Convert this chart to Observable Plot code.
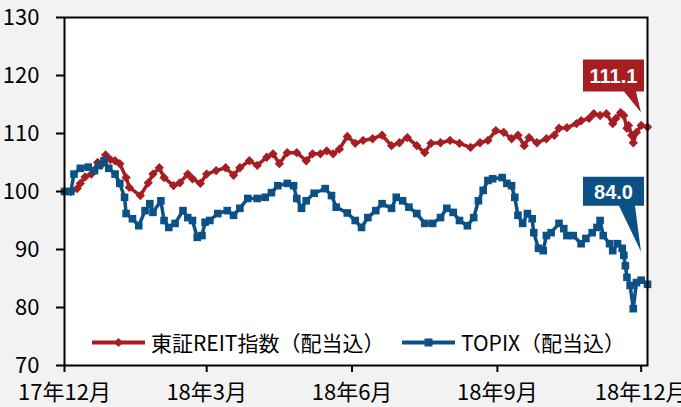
<!DOCTYPE html>
<html><head><meta charset="utf-8">
<script src="https://cdn.jsdelivr.net/npm/d3@7"></script>
<script src="https://cdn.jsdelivr.net/npm/@observablehq/plot@0.6"></script>
<style>
html,body{margin:0;padding:0;background:#f2f2f2;}
#wrap{position:relative;width:681px;height:407px;overflow:hidden;background:#f2f2f2;}
.lg{position:absolute;display:flex;align-items:center;font-size:21px;font-family:"Liberation Sans Narrow","Arial Narrow","Noto Sans CJK JP",sans-serif;color:#000;white-space:nowrap;line-height:1;}
.lg svg{margin-right:6px;}
</style></head><body><div id="wrap"></div>
<script>
const seriesNames = ["東証REIT指数（配当込）", "TOPIX（配当込）"];
const seriesColors = ["#a61d22", "#0c5186"];

const reitDates = ["2017-12-01","2017-12-05","2017-12-09","2017-12-11","2017-12-14","2017-12-18","2017-12-22","2017-12-24","2017-12-27","2017-12-30",
"2018-01-02","2018-01-05","2018-01-09","2018-01-11","2018-01-18","2018-01-23","2018-01-26","2018-01-30",
"2018-02-02","2018-02-08","2018-02-12","2018-02-17","2018-02-20","2018-02-25",
"2018-03-01","2018-03-07","2018-03-13","2018-03-18","2018-03-22","2018-03-28",
"2018-04-02","2018-04-08","2018-04-12","2018-04-16","2018-04-21","2018-04-27",
"2018-05-03","2018-05-07","2018-05-12","2018-05-16","2018-05-20","2018-05-24","2018-05-29",
"2018-06-03","2018-06-08","2018-06-14","2018-06-20","2018-06-26",
"2018-07-01","2018-07-06","2018-07-12","2018-07-17","2018-07-21","2018-07-27",
"2018-08-02","2018-08-08","2018-08-15","2018-08-21","2018-08-26","2018-08-31",
"2018-09-05","2018-09-10","2018-09-14","2018-09-18","2018-09-21","2018-09-26",
"2018-10-02","2018-10-07","2018-10-10","2018-10-15","2018-10-21","2018-10-24","2018-10-29",
"2018-11-01","2018-11-05","2018-11-09","2018-11-13","2018-11-15","2018-11-18","2018-11-20","2018-11-22","2018-11-23","2018-11-25","2018-11-26","2018-11-28",
"2018-12-01","2018-12-05"];
const reitValues = [100,100,100.5,101.4,102.5,103,105,104.5,106.3,105.5,
105.3,104.8,102.4,100.7,99.3,101.5,103,104.1,
102.4,101,101.5,103,102.2,101.4,
103,103.6,104.1,102.8,104.1,105.3,
104.5,105.9,106.5,104.8,106.7,106.7,
105.3,106.5,106.5,107,106.5,107.3,109.5,
108.3,108.8,109.1,109.7,107.9,
108.4,109.3,107.9,106.7,108.3,108.4,
108.8,108.3,107.6,108.4,108.8,110.5,
110.2,109.1,109.7,107.9,109.3,108.4,
109.1,109.7,110.9,111,111.7,112.2,112.6,
113.4,113.1,113.4,111.7,112.6,113.6,113.1,110.9,111.4,109.7,108.4,110.2,
111.4,111.1];

const topixDates = ["2017-12-01","2017-12-05","2017-12-07","2017-12-11","2017-12-16","2017-12-20","2017-12-23","2017-12-26","2017-12-29",
"2018-01-02","2018-01-05","2018-01-08","2018-01-09","2018-01-13","2018-01-17","2018-01-21","2018-01-24","2018-01-26","2018-01-31",
"2018-02-02","2018-02-05","2018-02-09","2018-02-14","2018-02-17","2018-02-20","2018-02-23","2018-02-26","2018-02-28",
"2018-03-03","2018-03-08","2018-03-14","2018-03-18","2018-03-22","2018-03-27",
"2018-04-02","2018-04-07","2018-04-11","2018-04-15","2018-04-21","2018-04-25","2018-04-27","2018-04-30",
"2018-05-03","2018-05-08","2018-05-15","2018-05-19","2018-05-22","2018-05-29",
"2018-06-03","2018-06-07","2018-06-11","2018-06-16","2018-06-20","2018-06-26","2018-06-29",
"2018-07-03","2018-07-07","2018-07-12","2018-07-17","2018-07-22","2018-07-27","2018-07-31",
"2018-08-04","2018-08-08","2018-08-13","2018-08-17","2018-08-20","2018-08-23","2018-08-26","2018-08-29",
"2018-09-04","2018-09-07","2018-09-10","2018-09-12","2018-09-14","2018-09-17","2018-09-20","2018-09-23","2018-09-24","2018-09-27","2018-09-30",
"2018-10-02","2018-10-05","2018-10-10","2018-10-13","2018-10-15","2018-10-19","2018-10-24","2018-10-27","2018-10-31",
"2018-11-03","2018-11-05","2018-11-07","2018-11-11","2018-11-13","2018-11-16","2018-11-19","2018-11-20","2018-11-21","2018-11-22","2018-11-24","2018-11-26","2018-11-28",
"2018-12-01","2018-12-05"];
const topixValues = [100,100,103,104,104.2,103.6,104.5,105.3,104,
103,101.4,99,96.2,95.3,94.1,96.7,97.9,96.4,98.4,
95,93.8,94.5,96.7,95.5,95,92.1,92.4,94.7,
95,96.2,96.7,95.9,97.1,98.8,
98.8,99,99.8,101,101.4,101,98.8,97.1,
98.4,99.7,100.5,99.3,97.3,96.3,
95,93.8,95.5,96.7,97.9,97.1,99,
98.4,97.3,96.2,94.5,94.5,95.5,97.1,
96.4,95,94.1,95.5,98.4,100.2,101.9,102.2,
102.4,101.4,101,99,95.9,94.5,96.2,95.3,92.9,90.2,89.8,
92.4,92.9,94.5,93.6,92.4,92.4,91,91.9,92.9,
93.8,95,92.4,91,89.8,91,90.2,89,87.2,85.2,83.8,79.8,84.3,
84.7,84.0];

const yTicks = [70, 80, 90, 100, 110, 120, 130];
const xTickDates = ["2017-12-01","2018-03-01","2018-06-01","2018-09-01","2018-12-01"];
const xTickLabels = ["17年12月","18年3月","18年6月","18年9月","18年12月"];
const endLabels = ["111.1", "84.0"];

const reit = reitDates.map((d, i) => ({date: new Date(d), value: reitValues[i]}));
const topix = topixDates.map((d, i) => ({date: new Date(d), value: topixValues[i]}));
const labelMap = new Map(xTickDates.map((d, i) => [+new Date(d), xTickLabels[i]]));

// callout layout (pixel offsets relative to the last point)
const calloutLayout = [
  {tipUp: 14, gap: 21, boxH: 32, baseL: -17, baseR: -5},
  {tipUp: 32, gap: 46, boxH: 29, baseL: -22, baseR: -6}
];
const seriesList = [reit, topix];

function callouts(index, scales) {
  const g = d3.create("svg:g");
  seriesList.forEach((s, k) => {
    const last = s[s.length - 1];
    const px = scales.x(last.date), py = scales.y(last.value);
    const L = calloutLayout[k];
    const tipX = px - 6, tipY = py - L.tipUp;
    const right = px - 3, left = right - 61;
    const bottom = tipY - L.gap, top = bottom - L.boxH;
    const path = `M${left},${top}H${right}V${bottom}H${tipX + L.baseR}L${tipX},${tipY}L${tipX + L.baseL},${bottom}H${left}Z`;
    g.append("path").attr("d", path).attr("fill", seriesColors[k]);
    g.append("text").attr("x", (left + right) / 2).attr("y", (top + bottom) / 2)
      .attr("dy", "0.36em").attr("text-anchor", "middle")
      .attr("fill", "white").attr("font-weight", "bold")
      .attr("font-family", '"Liberation Sans", Arial, sans-serif')
      .attr("font-size", 20).text(endLabels[k]);
  });
  return g.node();
}

const plot = Plot.plot({
  width: 681, height: 407,
  marginLeft: 64, marginRight: 34, marginTop: 17, marginBottom: 42,
  style: {background: "#f2f2f2", fontFamily: '"Liberation Sans Narrow","Arial Narrow","Noto Sans CJK JP",sans-serif', fontSize: "22px", color: "#000", overflow: "visible"},
  x: {type: "utc", domain: [new Date("2017-12-01"), new Date("2018-12-05")]},
  y: {domain: [70, 130]},
  marks: [
    Plot.frame({fill: "white"}),
    Plot.line(reit, {x: "date", y: "value", stroke: seriesColors[0], strokeWidth: 3.5}),
    Plot.dot(reit, {x: "date", y: "value", fill: seriesColors[0], symbol: "diamond2", r: 4.2}),
    Plot.line(topix, {x: "date", y: "value", stroke: seriesColors[1], strokeWidth: 3.5}),
    Plot.dot(topix, {x: "date", y: "value", fill: seriesColors[1], symbol: "square", r: 4.3}),
    Plot.axisY({ticks: yTicks, label: null, tickSize: 8, tickPadding: 17, fontSize: 22, tickFormat: d => String(d), strokeWidth: 2}),
    Plot.axisX({ticks: xTickDates.map(d => new Date(d)), label: null, tickFormat: d => labelMap.get(+d), tickSize: 7, tickPadding: 12, fontSize: 22, strokeWidth: 2}),
    Plot.frame({stroke: "black", strokeWidth: 2}),
    callouts
  ]
});

const wrap = document.getElementById("wrap");
wrap.appendChild(plot);

function legendItem(left, top, k, sym) {
  const div = document.createElement("div");
  div.className = "lg";
  div.style.left = left + "px";
  div.style.top = top + "px";
  const c = seriesColors[k];
  const marker = sym === "diamond"
    ? `<path d="M26.5,5 L31,9.5 L26.5,14 L22,9.5Z" fill="${c}"/>`
    : `<rect x="22.5" y="5.5" width="8" height="8" fill="${c}"/>`;
  div.innerHTML = `<svg width="53" height="19"><line x1="0" x2="53" y1="9.5" y2="9.5" stroke="${c}" stroke-width="4"/>${marker}</svg><span>${seriesNames[k]}</span>`;
  wrap.appendChild(div);
}
legendItem(92, 332, 0, "diamond");
legendItem(402, 332, 1, "square");
</script></body></html>
